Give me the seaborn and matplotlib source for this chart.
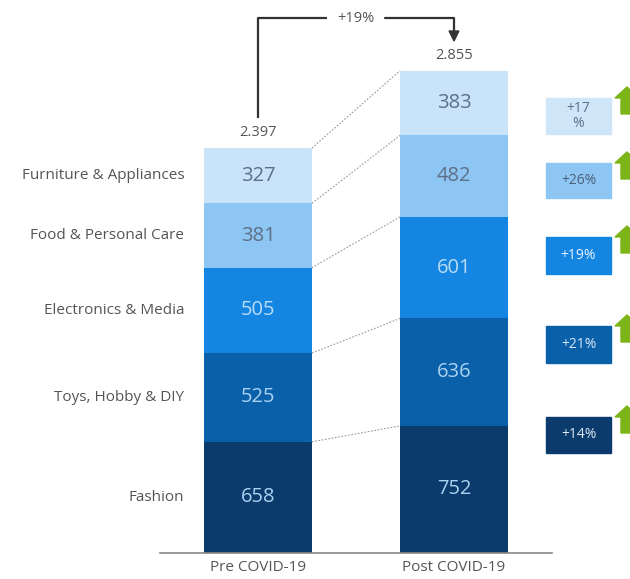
import matplotlib
matplotlib.use("Agg")
import matplotlib.pyplot as plt
import seaborn as sns
import pandas as pd
import numpy as np
from matplotlib.patches import Rectangle, Polygon

sns.set_theme(style="white")
plt.rcParams['font.family'] = ['Open Sans', 'DejaVu Sans']

periods = ["Pre COVID-19", "Post COVID-19"]
categories = ["Fashion", "Toys, Hobby & DIY", "Electronics & Media",
              "Food & Personal Care", "Furniture & Appliances"]
pre_values = [658, 525, 505, 381, 327]
post_values = [752, 636, 601, 482, 383]
totals = ["2.397", "2.855"]
growth_labels = ["+14%", "+21%", "+19%", "+26%", "+17\n%"]
total_growth = "+19%"

colors = ["#0b3b6c", "#0b60aa", "#1485e0", "#8ec6f3", "#c9e3f9"]
box_colors = ["#0b3b6c", "#0b60aa", "#1485e0", "#8ec6f3", "#cfe5f8"]
value_text_colors = ["#a9d2f2", "#a9d2f2", "#b8dcf7", "#5d6f86", "#5d6f86"]
box_text_colors = ["#dbe9f5", "#dbe9f5", "#e8f3fc", "#4a5e78", "#5d6f86"]

W, H = 630, 579
fig = plt.figure(figsize=(W / 100, H / 100), dpi=100)
base_px, top_px = 553, 10
scale = 0.169  # px per unit
ax = fig.add_axes([160 / W, (H - base_px) / H, (552 - 160) / W, (base_px - top_px) / H])

df = pd.DataFrame({
    "period": np.repeat(periods, len(categories)),
    "category": categories * 2,
    "value": pre_values + post_values,
})

bottoms = {p: 0 for p in periods}
for i, cat in enumerate(categories):
    sub = df[df["category"] == cat]
    bot = [bottoms[p] for p in sub["period"]]
    sns.barplot(data=sub, x="period", y="value", color=colors[i], bottom=bot,
                width=0.55, ax=ax, saturation=1, errorbar=None,
                linewidth=0, order=periods)
    for j, p in enumerate(periods):
        v = sub[sub["period"] == p]["value"].iloc[0]
        ax.text(j, bottoms[p] + v / 2, str(v), ha="center", va="center",
                fontsize=14.5, color=value_text_colors[i])
        bottoms[p] += v

ax.set_xlim(-0.5, 1.5)
ax.set_ylim(0, (base_px - top_px) / scale)
ax.set_xlabel("")
ax.set_ylabel("")
ax.set_yticks([])
ax.tick_params(axis="x", length=0, labelsize=11, labelcolor="#555555", pad=5)
for s in ["top", "right", "left"]:
    ax.spines[s].set_visible(False)
ax.spines["bottom"].set_color("#888888")
ax.spines["bottom"].set_linewidth(1.2)

# connector lines
cum_pre = np.cumsum(pre_values)
cum_post = np.cumsum(post_values)
for a, b in zip(cum_pre, cum_post):
    ax.plot([0.275, 0.725], [a, b], ls=(0, (1.5, 1.5)), color="#999999", lw=0.8)

# category labels
cp = np.concatenate([[0], cum_pre])
for i, cat in enumerate(categories):
    ax.text(-0.375, (cp[i] + cp[i + 1]) / 2, cat, ha="right", va="center",
            fontsize=11, color="#555555", clip_on=False)

# totals
for j, t in enumerate(totals):
    ax.text(j, [cum_pre[-1], cum_post[-1]][j] + 90, t, ha="center", va="center",
            fontsize=10.5, color="#555555")

# bracket
def py(p):
    return (base_px - p) / scale
ax.plot([0, 0, 0.35], [py(118), py(18), py(18)], color="#333333", lw=1.6,
        clip_on=False, solid_capstyle="butt")
ax.plot([0.65, 1.0, 1.0], [py(18), py(18), py(32)], color="#333333", lw=1.6,
        clip_on=False)
ax.add_patch(Polygon([[0.975, py(31)], [1.025, py(31)], [1.0, py(41)]],
                     closed=True, color="#333333", clip_on=False))
ax.text(0.5, py(18), total_growth, ha="center", va="center", fontsize=10.5,
        color="#555555")

# growth boxes (pixel layout)
def fx(x):
    return x / W
def fy(y):
    return 1 - y / H
box_y = [(417, 453), (326, 363), (237, 274), (163, 198), (98, 134)]
for i, (y0, y1) in enumerate(box_y):
    fig.patches.append(Rectangle((fx(546), fy(y1)), fx(611) - fx(546), fy(y0) - fy(y1),
                                 transform=fig.transFigure, color=box_colors[i]))
    fig.text(fx(578.5), fy((y0 + y1) / 2), growth_labels[i], ha="center", va="center",
             fontsize=10, color=box_text_colors[i], linespacing=1.0)
    tip = y0 - 11
    arrow = [[615, tip + 11], [627, tip], [639, tip + 11], [633, tip + 11],
             [633, tip + 27], [621, tip + 27], [621, tip + 11]]
    fig.patches.append(Polygon([[fx(x), fy(y)] for x, y in arrow], closed=True,
                               transform=fig.transFigure, color="#7cb518"))

fig.savefig("out.png", dpi=100)
